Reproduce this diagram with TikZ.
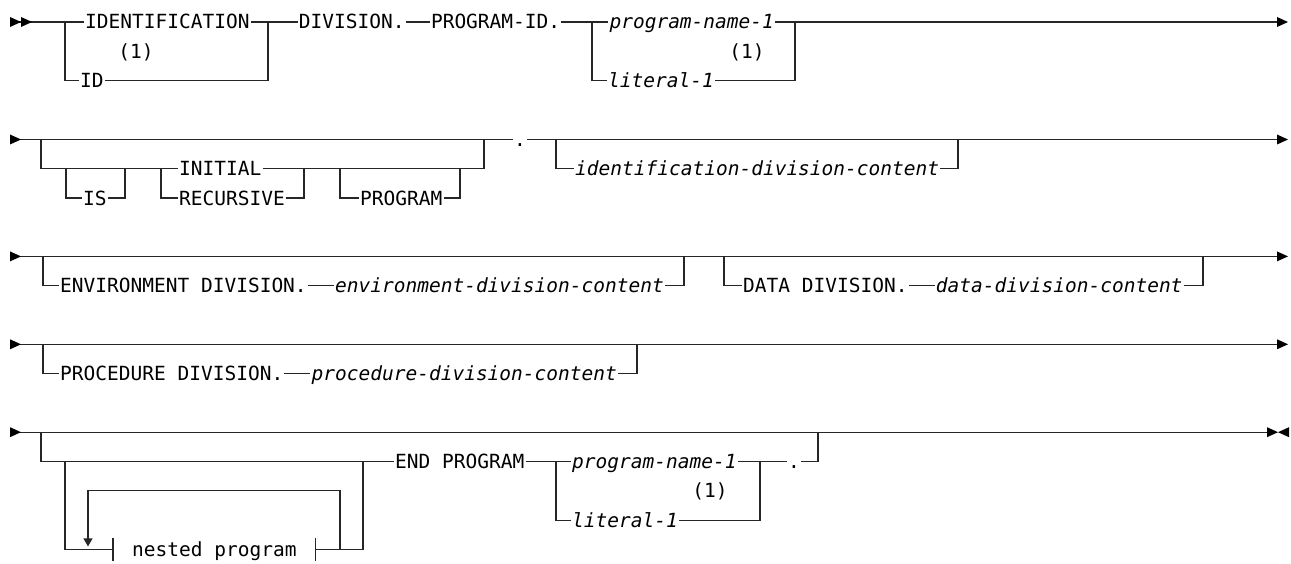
\documentclass[tikz,border=0pt]{standalone}
\usepackage{fontspec}
\setmonofont{DejaVu Sans Mono}
\usetikzlibrary{positioning,arrows.meta}

\begin{document}
\begin{tikzpicture}[x=1pt,y=-1pt]
    % Define Styles
        \tikzstyle{kw} = [anchor=west, inner xsep=1pt, inner ysep=0pt, text height=14pt, text depth=0pt, font=\ttfamily\fontsize{19.5}{23}\selectfont]
        \tikzstyle{var} = [kw, font=\ttfamily\itshape\fontsize{19.5}{23}\selectfont]
        \tikzstyle{fn} = [kw, anchor=center]
        \tikzstyle{frag} = [kw, inner xsep=19pt, inner ysep=4pt]
        \tikzstyle{line} = [draw, black!85, line width=1.2pt]
        \useasboundingbox (0,0) rectangle (1291,564);
    % Place nodes
        % header
        \coordinate (s1) at (10,22);
        \node [kw] (ident) at (84,22) {IDENTIFICATION};
        \node [fn] (fn1) at (136,51.3) {(1)};
        \node [kw] (idabbr) at (79,80.6) {ID};
        \node [kw, right = 47pt of ident] (div) {DIVISION.};
        \node [kw, right = 24pt of div] (progid) {PROGRAM-ID.};
        \node [var, right = 47pt of progid] (pname) {program-name-1};
        \node [fn] (fn2) at (747,51.3) {(1)};
        \node [var] (lit) at (607,80.6) {literal-1};
        \coordinate (j1a) at (65,22);
        \coordinate (j1b) at (268,22);
        \coordinate (j1c) at (592,22);
        \coordinate (j1d) at (795,22);
        \coordinate (e1) at (1277,22);
        % options
        \coordinate (s2) at (10,139.5);
        \node [kw] (initial) at (178,168.8) {INITIAL};
        \node [kw] (is) at (82,198.1) {IS};
        \node [kw] (recur) at (178,198.1) {RECURSIVE};
        \node [kw] (prog) at (359,198.1) {PROGRAM};
        \node [kw] (dot1) at (513,139.5) {.};
        \node [var] (idcont) at (574,168.8) {identification-division-content};
        \coordinate (j2a) at (41,139.5);
        \coordinate (j2b) at (484,139.5);
        \coordinate (k1) at (66,168.8);
        \coordinate (k2) at (125,168.8);
        \coordinate (k3) at (161,168.8);
        \coordinate (k4) at (304,168.8);
        \coordinate (k5) at (340,168.8);
        \coordinate (k6) at (460,168.8);
        \coordinate (j2c) at (556,139.5);
        \coordinate (j2d) at (958,139.5);
        \coordinate (e2) at (1277,139.5);
        % environment and data
        \coordinate (s3) at (10,256.4);
        \node [kw] (envdiv) at (59,285.7) {ENVIRONMENT DIVISION.};
        \node [var, right = 26pt of envdiv] (envcont) {environment-division-content};
        \node [kw] (datadiv) at (742,285.7) {DATA DIVISION.};
        \node [var, right = 26pt of datadiv] (datacont) {data-division-content};
        \coordinate (j3a) at (43,256.4);
        \coordinate (j3b) at (684,256.4);
        \coordinate (j3c) at (724,256.4);
        \coordinate (j3d) at (1203,256.4);
        \coordinate (e3) at (1277,256.4);
        % procedure
        \coordinate (s4) at (10,344.3);
        \node [kw] (procdiv) at (59,373.6) {PROCEDURE DIVISION.};
        \node [var, right = 26pt of procdiv] (proccont) {procedure-division-content};
        \coordinate (j4a) at (43,344.3);
        \coordinate (j4b) at (637,344.3);
        \coordinate (e4) at (1277,344.3);
        % end
        \coordinate (s5) at (10,432.2);
        \node [kw] (endprog) at (394,461.5) {END PROGRAM};
        \node [var] (pname2) at (571,461.5) {program-name-1};
        \node [fn] (fn3) at (710,490.8) {(1)};
        \node [var] (lit2) at (571,520.1) {literal-1};
        \node [kw] (dot2) at (787,461.5) {.};
        \node [frag] (nested) at (113,549.4) {nested program};
        \coordinate (j5a) at (41,432.2);
        \coordinate (j5b) at (65,461.5);
        \coordinate (j5c) at (363,461.5);
        \coordinate (j5d) at (556,461.5);
        \coordinate (j5e) at (760,461.5);
        \coordinate (j5f) at (818,432.2);
        \coordinate (loopr) at (340,549.4);
        \coordinate (looptop) at (88,490.8);
        \coordinate (loopl) at (88,549.4);
        \coordinate (e5) at (1267,432.2);
    % Edges
        \draw[line] (s1) -- (ident.west);
        \draw[line] (j1a) |- (idabbr.west);
        \draw[line] (ident.east) -- (div.west);
        \draw[line] (idabbr.east) -| (j1b);
        \draw[line] (div.east) -- (progid.west);
        \draw[line] (progid.east) -- (pname.west);
        \draw[line] (j1c) |- (lit.west);
        \draw[line] (pname.east) -- (e1);
        \draw[line] (lit.east) -| (j1d);
        \fill (s1) ++(0,-5) -- ++(11,5) -- ++(-11,5) -- cycle;
        \fill (s1) ++(11,-5) -- ++(11,5) -- ++(-11,5) -- cycle;
        \fill (e1) ++(0,-5) -- ++(11,5) -- ++(-11,5) -- cycle;

        \draw[line] (s2) -- (dot1.west);
        \draw[line] (j2a) |- (initial.west);
        \draw[line] (initial.east) -| (j2b);
        \draw[line] (k1) |- (is.west);
        \draw[line] (is.east) -| (k2);
        \draw[line] (k3) |- (recur.west);
        \draw[line] (recur.east) -| (k4);
        \draw[line] (k5) |- (prog.west);
        \draw[line] (prog.east) -| (k6);
        \draw[line] (dot1.east) -- (e2);
        \draw[line] (j2c) |- (idcont.west);
        \draw[line] (idcont.east) -| (j2d);
        \fill (s2) ++(0,-5) -- ++(11,5) -- ++(-11,5) -- cycle;
        \fill (e2) ++(0,-5) -- ++(11,5) -- ++(-11,5) -- cycle;

        \draw[line] (s3) -- (e3);
        \draw[line] (j3a) |- (envdiv.west);
        \draw[line] (envdiv.east) -- (envcont.west);
        \draw[line] (envcont.east) -| (j3b);
        \draw[line] (j3c) |- (datadiv.west);
        \draw[line] (datadiv.east) -- (datacont.west);
        \draw[line] (datacont.east) -| (j3d);
        \fill (s3) ++(0,-5) -- ++(11,5) -- ++(-11,5) -- cycle;
        \fill (e3) ++(0,-5) -- ++(11,5) -- ++(-11,5) -- cycle;

        \draw[line] (s4) -- (e4);
        \draw[line] (j4a) |- (procdiv.west);
        \draw[line] (procdiv.east) -- (proccont.west);
        \draw[line] (proccont.east) -| (j4b);
        \fill (s4) ++(0,-5) -- ++(11,5) -- ++(-11,5) -- cycle;
        \fill (e4) ++(0,-5) -- ++(11,5) -- ++(-11,5) -- cycle;

        \draw[line] (s5) -- (e5);
        \draw[line] (j5a) |- (endprog.west);
        \draw[line] (j5b) |- (nested.west);
        \draw[line] (nested.east) -| (j5c);
        \draw[line] (nested.north west) -- (nested.south west);
        \draw[line] (nested.north east) -- (nested.south east);
        \draw[line, -{Triangle[length=8pt,width=9pt]}, shorten >=3pt] (loopr) |- (looptop) -- (loopl);
        \draw[line] (endprog.east) -- (pname2.west);
        \draw[line] (j5d) |- (lit2.west);
        \draw[line] (pname2.east) -- (dot2.west);
        \draw[line] (lit2.east) -| (j5e);
        \draw[line] (dot2.east) -| (j5f);
        \fill (s5) ++(0,-5) -- ++(11,5) -- ++(-11,5) -- cycle;
        \fill (e5) ++(0,-5) -- ++(11,5) -- ++(-11,5) -- cycle;
        \fill (e5) ++(22,-5) -- ++(-11,5) -- ++(11,5) -- cycle;
\end{tikzpicture}
\end{document}
